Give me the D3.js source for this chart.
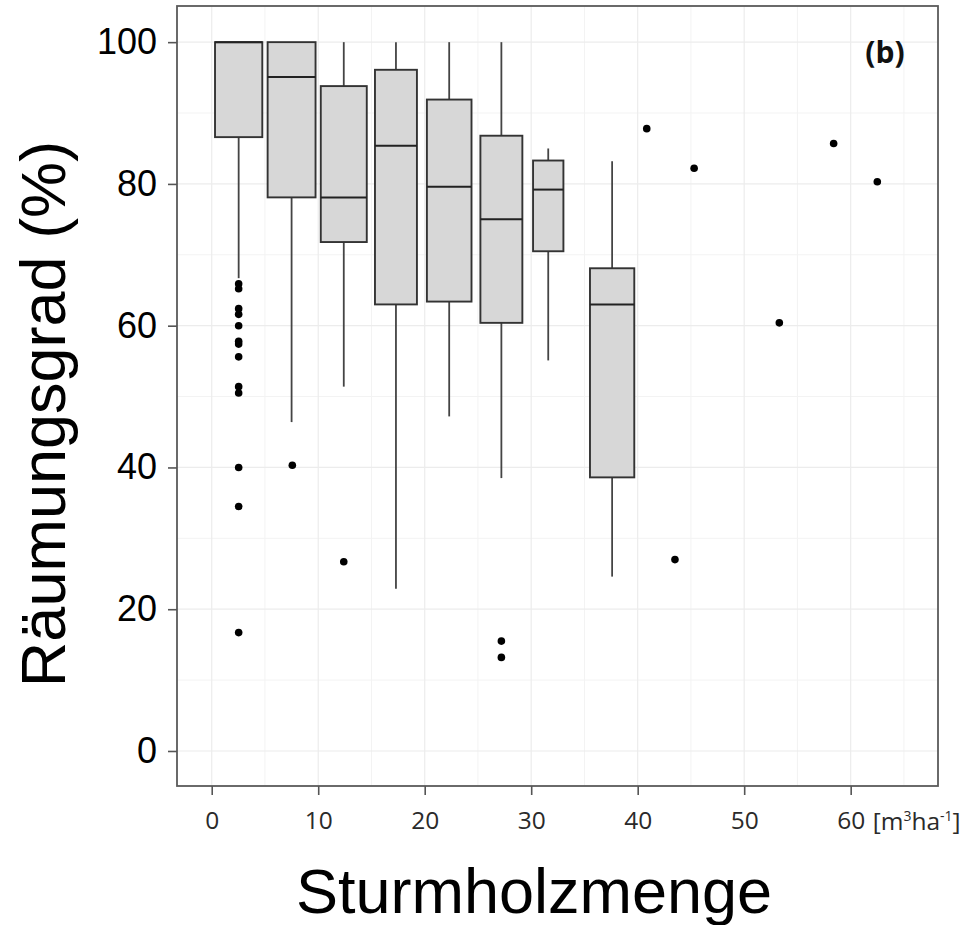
<!DOCTYPE html>
<html>
<head>
<meta charset="utf-8">
<script src="https://cdn.jsdelivr.net/npm/d3@7"></script>
<style>
  html, body { margin: 0; padding: 0; background: #fff; }
  svg { display: block; }
</style>
</head>
<body>
<svg id="chart" width="967" height="925"></svg>
<script>
// ---------------- DATA ----------------
// Box groups (Sturmholzmenge classes): centre and x-range width of each group (m3/ha)
const boxCenter = [2.53, 7.5, 12.4, 17.3, 22.3, 27.2, 31.6, 37.6];
const boxWidth  = [4.44, 4.5, 4.32, 3.94, 4.19, 3.94, 2.85, 4.16];
// Five-number summaries (Räumungsgrad %)
const whiskerLow  = [66.7, 46.4, 51.4, 22.9, 47.2, 38.5, 55.1, 24.6];
const q1          = [86.6, 78.1, 71.8, 63.0, 63.4, 60.4, 70.5, 38.6];
const median      = [100,  95.1, 78.1, 85.4, 79.6, 75.0, 79.2, 63.0];
const q3          = [100,  100,  93.8, 96.1, 91.9, 86.8, 83.3, 68.1];
const whiskerHigh = [100,  100,  100,  100,  100,  100,  85.0, 83.2];
// Outliers and single observations
const pointX = [2.53, 2.53, 2.53, 2.53, 2.53, 2.53, 2.53, 2.53, 2.53, 2.53, 2.53, 2.53, 2.53,
                7.57, 12.4, 27.2, 27.2,
                40.85, 45.3, 58.4, 62.5, 53.3, 43.5];
const pointY = [65.9, 65.2, 62.4, 61.6, 60.0, 57.8, 57.4, 55.6, 51.4, 50.5, 40.0, 34.5, 16.7,
                40.3, 26.7, 15.5, 13.2,
                87.8, 82.2, 85.7, 80.3, 60.4, 27.0];
// Axis ticks
const xTicks = [0, 10, 20, 30, 40, 50, 60];
const xMinor = [5, 15, 25, 35, 45, 55, 65];
const yTicks = [0, 20, 40, 60, 80, 100];
const yMinor = [10, 30, 50, 70, 90];
const xTitle = "Sturmholzmenge";
const yTitle = "Räumungsgrad (%)";
const panelTag = "(b)";

// ---------------- LAYOUT ----------------
const svg = d3.select("#chart");
const L = 177, R = 938, T = 6, B = 786;
const x = d3.scaleLinear().domain([-3.26, 68.2]).range([L, R]);
const y = d3.scaleLinear().domain([-4.94, 105.1]).range([B, T]);

// grid
const grid = svg.append("g");
grid.selectAll(".xminor").data(xMinor).join("line")
  .attr("x1", d => x(d)).attr("x2", d => x(d)).attr("y1", T).attr("y2", B)
  .attr("stroke", "#f3f3f3").attr("stroke-width", 1);
grid.selectAll(".yminor").data(yMinor).join("line")
  .attr("x1", L).attr("x2", R).attr("y1", d => y(d)).attr("y2", d => y(d))
  .attr("stroke", "#f3f3f3").attr("stroke-width", 1);
grid.selectAll(".xmajor").data(xTicks).join("line")
  .attr("x1", d => x(d)).attr("x2", d => x(d)).attr("y1", T).attr("y2", B)
  .attr("stroke", "#ececec").attr("stroke-width", 1.2);
grid.selectAll(".ymajor").data(yTicks).join("line")
  .attr("x1", L).attr("x2", R).attr("y1", d => y(d)).attr("y2", d => y(d))
  .attr("stroke", "#ececec").attr("stroke-width", 1.2);

// boxes
const boxes = d3.range(boxCenter.length).map(i => ({
  c: boxCenter[i], w: boxWidth[i], lo: whiskerLow[i], q1: q1[i], med: median[i], q3: q3[i], hi: whiskerHigh[i]
}));
const bg = svg.append("g");
bg.selectAll(".wlo").data(boxes).join("line")
  .attr("x1", d => x(d.c)).attr("x2", d => x(d.c))
  .attr("y1", d => y(d.q1)).attr("y2", d => y(d.lo))
  .attr("stroke", "#444").attr("stroke-width", 1.8);
bg.selectAll(".whi").data(boxes.filter(d => d.hi > d.q3)).join("line")
  .attr("x1", d => x(d.c)).attr("x2", d => x(d.c))
  .attr("y1", d => y(d.q3)).attr("y2", d => y(d.hi))
  .attr("stroke", "#444").attr("stroke-width", 1.8);
bg.selectAll("rect").data(boxes).join("rect")
  .attr("x", d => x(d.c - d.w / 2)).attr("width", d => x(d.c + d.w / 2) - x(d.c - d.w / 2))
  .attr("y", d => y(d.q3)).attr("height", d => y(d.q1) - y(d.q3))
  .attr("fill", "#d7d7d7").attr("stroke", "#333").attr("stroke-width", 1.9);
bg.selectAll(".med").data(boxes).join("line")
  .attr("x1", d => x(d.c - d.w / 2)).attr("x2", d => x(d.c + d.w / 2))
  .attr("y1", d => y(d.med)).attr("y2", d => y(d.med))
  .attr("stroke", "#222").attr("stroke-width", 2);

// points
svg.append("g").selectAll("circle").data(pointX.map((v, i) => [v, pointY[i]])).join("circle")
  .attr("cx", d => x(d[0])).attr("cy", d => y(d[1])).attr("r", 3.8).attr("fill", "#000");

// panel border
svg.append("rect").attr("x", L).attr("y", T).attr("width", R - L).attr("height", B - T)
  .attr("fill", "none").attr("stroke", "#5a5a5a").attr("stroke-width", 1.8);

// x axis
const xAxis = svg.append("g").attr("transform", `translate(0,${B})`)
  .call(d3.axisBottom(x).tickValues(xTicks).tickSize(9).tickPadding(17).tickFormat(d3.format("d")));
xAxis.select(".domain").remove();
xAxis.selectAll(".tick line").attr("stroke", "#555").attr("stroke-width", 1.6);
xAxis.selectAll(".tick text").attr("font-family", "'Open Sans', sans-serif").attr("font-size", 24.5)
  .attr("fill", "#2a2a2a");
// unit label after 60
const unit = svg.append("text").attr("x", x(60) + 22).attr("y", 829.5)
  .attr("font-family", "'Open Sans', sans-serif").attr("font-size", 24.5).attr("fill", "#2a2a2a");
unit.append("tspan").text("[m");
unit.append("tspan").text("3").attr("font-size", 14).attr("dy", -9);
unit.append("tspan").text("ha").attr("dy", 9);
unit.append("tspan").text("-1").attr("font-size", 14).attr("dy", -9);
unit.append("tspan").text("]").attr("dy", 9);

// y axis
const yAxis = svg.append("g").attr("transform", `translate(${L},0)`)
  .call(d3.axisLeft(y).tickValues(yTicks).tickSize(9).tickPadding(11).tickFormat(d3.format("d")));
yAxis.select(".domain").remove();
yAxis.selectAll(".tick line").attr("stroke", "#555").attr("stroke-width", 1.6);
yAxis.selectAll(".tick text").attr("font-family", "Arial, 'Liberation Sans', sans-serif")
  .attr("font-size", 36).attr("fill", "#000");

// titles
svg.append("text").attr("x", 534).attr("y", 913).attr("text-anchor", "middle")
  .attr("font-family", "Arial, 'Liberation Sans', sans-serif").attr("font-size", 63).attr("fill", "#000")
  .text(xTitle);
svg.append("text").attr("transform", "translate(65,414) rotate(-90)").attr("text-anchor", "middle")
  .attr("font-family", "Arial, 'Liberation Sans', sans-serif").attr("font-size", 63).attr("fill", "#000")
  .text(yTitle);

// panel tag
svg.append("text").attr("x", 885).attr("y", 63).attr("text-anchor", "middle")
  .attr("font-family", "'Open Sans', sans-serif").attr("font-weight", "bold").attr("font-size", 30)
  .attr("fill", "#111").text(panelTag);
</script>
</body>
</html>
